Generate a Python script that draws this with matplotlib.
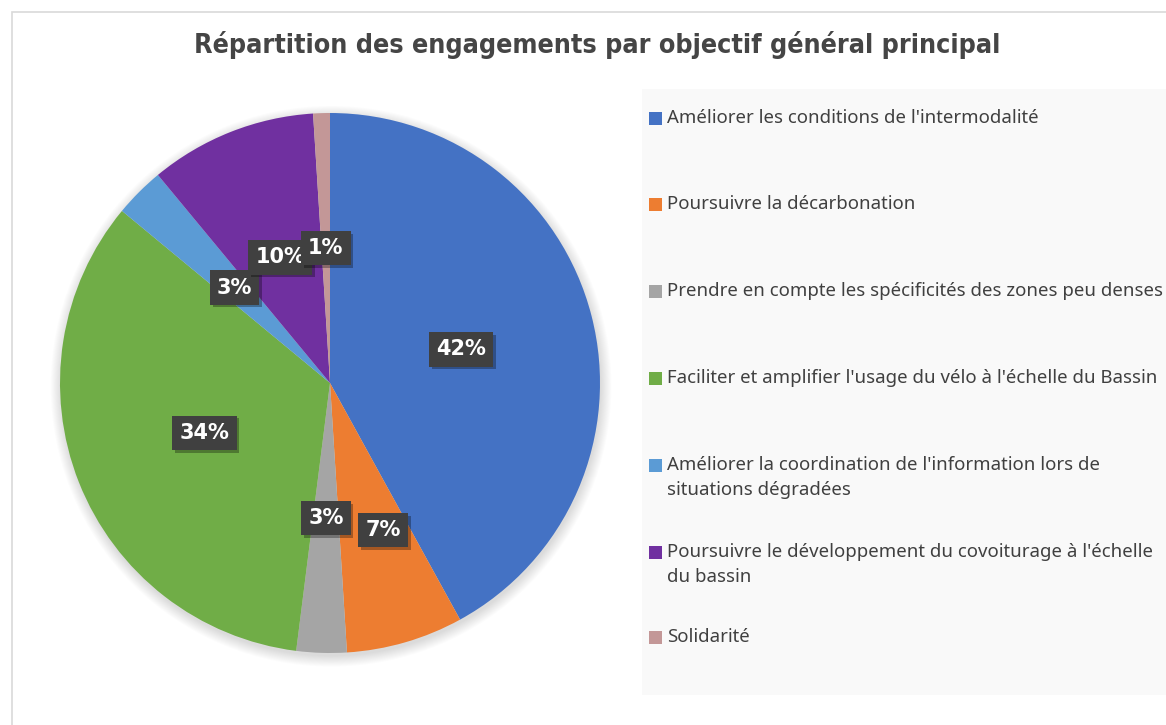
import matplotlib.pyplot as plt
import matplotlib.patheffects as pe
from matplotlib.patches import Rectangle, Circle
import numpy as np

categories = [
    "Améliorer les conditions de l'intermodalité",
    "Poursuivre la décarbonation",
    "Prendre en compte les spécificités des zones peu denses",
    "Faciliter et amplifier l'usage du vélo à l'échelle du Bassin",
    "Améliorer la coordination de l'information lors de\nsituations dégradées",
    "Poursuivre le développement du covoiturage à l'échelle\ndu bassin",
    "Solidarité",
]
values = [42, 7, 3, 34, 3, 10, 1]
colors = ["#4472C4", "#ED7D31", "#A5A5A5", "#70AD47", "#5B9BD5", "#7030A0", "#C39797"]
title = "Répartition des engagements par objectif général principal"

W, H = 1166, 725
fig = plt.figure(figsize=(W / 100, H / 100), dpi=100)

def fx(px):
    return px / W

def fy(py):
    return 1 - py / H

# chart frame
fig.patches.append(Rectangle((fx(11.5), fy(760)), fx(1300), 760 / H - 11.5 / H,
                             transform=fig.transFigure, fill=False,
                             edgecolor="#d9d9d9", lw=1.2))

fig.text(fx(597), fy(45), title, ha="center", va="center",
         fontsize=19.3, fontweight="bold", color="#454545",
         family=["DejaVu Sans"], fontstretch="condensed")

# pie
cx, cy, r = 330, 383, 270
ax = fig.add_axes([fx(cx - r), fy(cy + r), 2 * r / W, 2 * r / H])

wedges, _ = ax.pie(values, colors=colors, startangle=90, counterclock=False,
                   radius=1.0, wedgeprops=dict(linewidth=0))
ax.set_xlim(-1, 1)
ax.set_ylim(-1, 1)
ax.set_aspect("equal")
ax.axis("off")
for w in wedges:
    w.set_zorder(2)

# soft shadow under the pie
for k in range(12):
    ax.add_patch(Circle((0.004, -0.012), 1.0 + 0.0035 * k, color="black",
                        alpha=0.01, lw=0, zorder=0, clip_on=False))

dist = [0.5, 0.58, 0.5, 0.5, 0.5, 0.5, 0.5]
shift = [0, 3.6, 0, 0, 0, 0, 0]
for w, v, d, s in zip(wedges, values, dist, shift):
    ang = np.deg2rad((w.theta1 + w.theta2) / 2 + s)
    t = ax.text(d * np.cos(ang), d * np.sin(ang), f"{v}%", ha="center", va="center",
                fontsize=15, fontweight="bold", color="white", zorder=5,
                family=["DejaVu Sans"],
                bbox=dict(boxstyle="square,pad=0.34", facecolor="#404040",
                          edgecolor="none", lw=0))
    t.get_bbox_patch().set_path_effects([
        pe.SimplePatchShadow(offset=(2, -2), shadow_rgbFace="black", alpha=0.3),
        pe.Normal()])

# legend panel
fig.patches.append(Rectangle((fx(642), fy(695)), fx(600), (695 - 89) / H,
                             transform=fig.transFigure, facecolor="#f9f9f9",
                             edgecolor="none"))
rows = [118, 204, 291, 378, 465, 552, 637]
for label, col, yy in zip(categories, colors, rows):
    fig.patches.append(Rectangle((fx(649), fy(yy + 6.5)), fx(13), 13 / H,
                                 transform=fig.transFigure, facecolor=col,
                                 edgecolor="none"))
    for j, line in enumerate(label.split("\n")):
        fig.text(fx(667), fy(yy + 25 * j), line, ha="left", va="center",
                 fontsize=13.4, color="#404040", family=["Noto Sans", "DejaVu Sans"])

fig.savefig("out.png", dpi=100)
